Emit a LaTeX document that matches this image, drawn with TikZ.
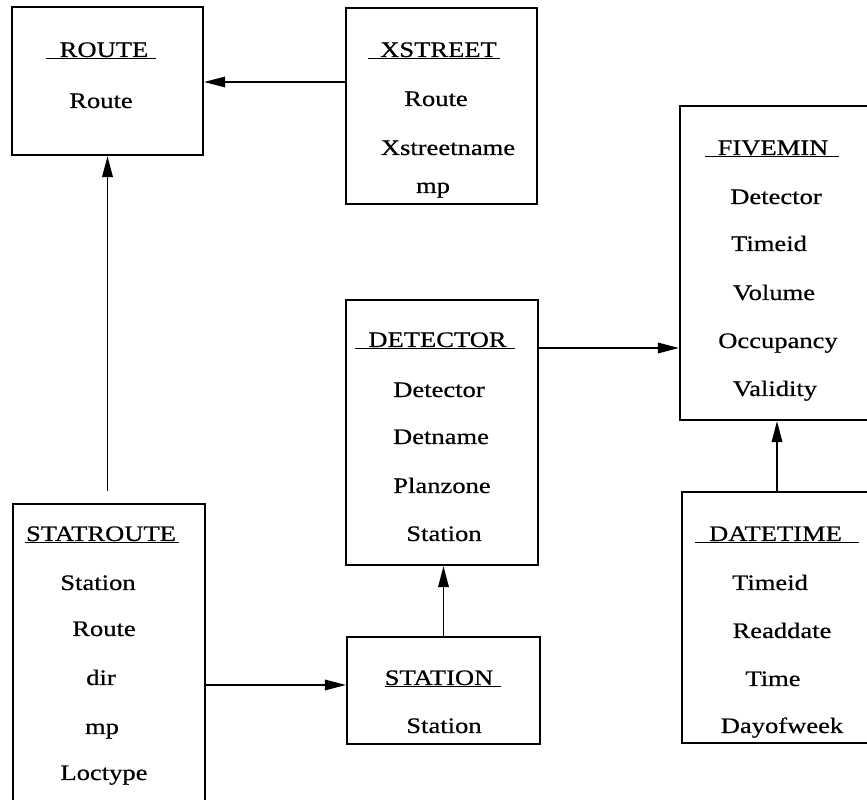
\documentclass[tikz,border=0pt]{standalone}
\usepackage{fontspec}
\setmainfont{Liberation Serif}[FakeStretch=1.2, FakeBold=0.6]
\usetikzlibrary{arrows.meta, positioning, fit}

% underlined table title with extra rule before/after the name
\newcommand{\ttl}[3]{\setbox0\hbox{\hspace{#1}#2\hspace{#3}}\rlap{\rule[-1.3pt]{\wd0}{0.9pt}}\box0}

\begin{document}
\begin{tikzpicture}[x=0.02cm, y=-0.02cm,
    tbl/.style={draw, line width=1.25pt, inner sep=0pt},
    fld/.style={anchor=base, inner sep=0pt, font=\fontsize{12.6}{14}\selectfont},
    link/.style={line width=1pt, -{Triangle[length=12pt, width=6pt]}}]
  \useasboundingbox (0,0) rectangle (867,800);

  % Tables
  \node[tbl, fit={(12,7) (203,155)}] (route) {};
  \node[tbl, fit={(346,8) (537,204)}] (xstreet) {};
  \node[tbl, fit={(680,106) (872,420)}] (fivemin) {};
  \node[tbl, fit={(346,300) (538,565)}] (detector) {};
  \node[tbl, fit={(13,504) (205,806)}] (statroute) {};
  \node[tbl, fit={(347,637) (540,744)}] (station) {};
  \node[tbl, fit={(682,492) (872,743)}] (datetime) {};

  % ROUTE
  \node[fld] (route-t) at (101,57) {\ttl{0.28cm}{ROUTE}{0.16cm}};
  \node[fld] (route-1) at (101,108) {Route};

  % XSTREET
  \node[fld] (xstreet-t) at (434,57) {\ttl{0.24cm}{XSTREET}{0.06cm}};
  \node[fld] (xstreet-1) at (436,106) {Route};
  \node[fld] (xstreet-2) at (448,155) {Xstreetname};
  \node[fld] (xstreet-3) at (433,193) {mp};

  % FIVEMIN
  \node[fld] (fivemin-t) at (772,155) {\ttl{0.26cm}{FIVEMIN}{0.22cm}};
  \node[fld] (fivemin-1) at (776,204) {Detector};
  \node[fld] (fivemin-2) at (769,251) {Timeid};
  \node[fld] (fivemin-3) at (774,300) {Volume};
  \node[fld] (fivemin-4) at (778,348) {Occupancy};
  \node[fld] (fivemin-5) at (775,396) {Validity};

  % DETECTOR
  \node[fld] (detector-t) at (435,347) {\ttl{0.26cm}{DETECTOR}{0.16cm}};
  \node[fld] (detector-1) at (439,397) {Detector};
  \node[fld] (detector-2) at (441,444) {Detname};
  \node[fld] (detector-3) at (442,493) {Planzone};
  \node[fld] (detector-4) at (444,541) {Station};

  % STATROUTE
  \node[fld] (statroute-t) at (102,541) {\ttl{0.02cm}{STATROUTE}{0.06cm}};
  \node[fld] (statroute-1) at (98,590) {Station};
  \node[fld] (statroute-2) at (104,636) {Route};
  \node[fld] (statroute-3) at (101,685) {dir};
  \node[fld] (statroute-4) at (102,734) {mp};
  \node[fld] (statroute-5) at (104,780) {Loctype};

  % STATION
  \node[fld] (station-t) at (443,685) {\ttl{0cm}{STATION}{0.16cm}};
  \node[fld] (station-1) at (444,733) {Station};

  % DATETIME
  \node[fld] (datetime-t) at (777,541) {\ttl{0.28cm}{DATETIME}{0.34cm}};
  \node[fld] (datetime-1) at (770,590) {Timeid};
  \node[fld] (datetime-2) at (782,638) {Readdate};
  \node[fld] (datetime-3) at (773,686) {Time};
  \node[fld] (datetime-4) at (782,733) {Dayofweek};

  % Links
  \draw[link] (xstreet.west |- 0,82) -- (route.east |- 0,82);
  \draw[link, shorten <=0.24cm] (route.south |- statroute.north) -- (route.south);
  \draw[link] (statroute.east |- station-t.base) -- (station.west |- station-t.base);
  \draw[link] (station.north) -- (station.north |- detector.south);
  \draw[link] (detector.east |- 0,348) -- (fivemin.west |- 0,348);
  \draw[link] (datetime.north) -- (datetime.north |- fivemin.south);
\end{tikzpicture}
\end{document}
